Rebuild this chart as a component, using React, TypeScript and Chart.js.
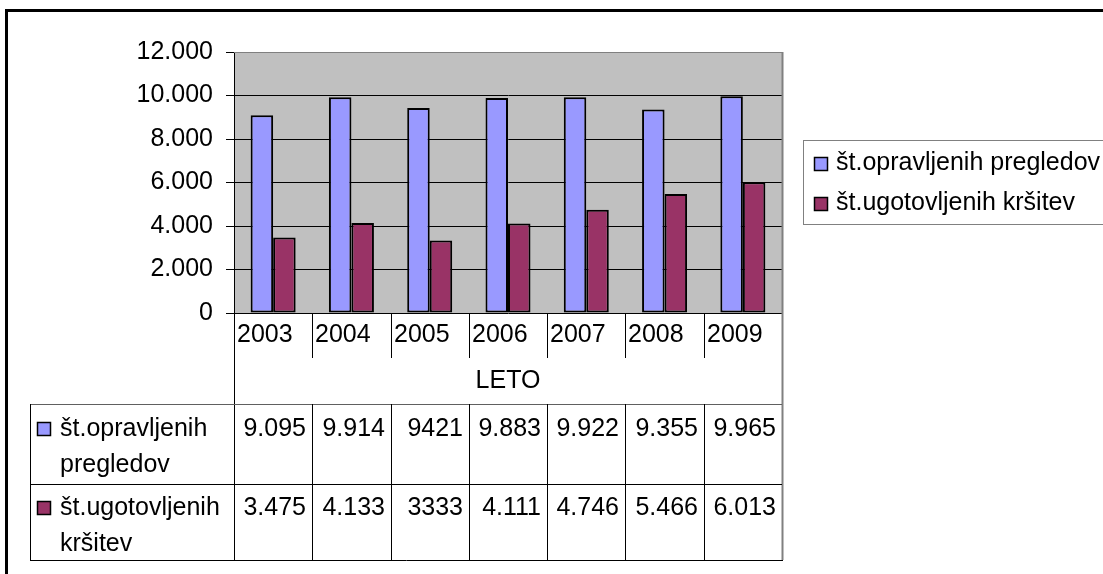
import React, { useEffect, useRef } from 'react';
import { Chart, registerables } from 'chart.js';

Chart.register(...registerables);

const categories = ['2003', '2004', '2005', '2006', '2007', '2008', '2009'];
const seriesNames = ['št.opravljenih pregledov', 'št.ugotovljenih kršitev'];
const inspections = [9095, 9914, 9421, 9883, 9922, 9355, 9965];
const violations = [3475, 4133, 3333, 4111, 4746, 5466, 6013];
const inspectionsText = ['9.095', '9.914', '9421', '9.883', '9.922', '9.355', '9.965'];
const violationsText = ['3.475', '4.133', '3333', '4.111', '4.746', '5.466', '6.013'];
const rowLabelLines = [
  ['št.opravljenih', 'pregledov'],
  ['št.ugotovljenih', 'kršitev'],
];
const axisTitle = 'LETO';
const yMin = 0;
const yMax = 12000;
const yStep = 2000;

const colors = ['#9999FF', '#993366'];
const FONT = '"Liberation Sans", Arial, sans-serif';
const FS = 25;
const W = 1103;
const H = 574;

function fmt(v: number): string {
  const s = String(Math.round(v));
  return s.replace(/\B(?=(\d{3})+(?!\d))/g, '.');
}

const decorPlugin = {
  id: 'decor',
  beforeDraw(chart: any) {
    const { ctx, chartArea } = chart;
    ctx.save();
    ctx.fillStyle = '#FFFFFF';
    ctx.fillRect(0, 0, chart.width, chart.height);
    ctx.fillStyle = '#C0C0C0';
    ctx.fillRect(chartArea.left, chartArea.top, chartArea.right - chartArea.left, chartArea.bottom - chartArea.top);
    ctx.restore();
  },
  afterDraw(chart: any) {
    const { ctx, chartArea, scales } = chart;
    const xs = scales.x;
    const left = chartArea.left;
    const right = chartArea.right;
    const top = chartArea.top;
    const bottom = chartArea.bottom;
    const n = categories.length;
    const cw = (right - left) / n;
    const edge = (i: number) => Math.round(xs.getPixelForValue(0) - cw / 2 + i * cw);

    const axisCellBottom = bottom + 45;
    const tableTop = bottom + 91;
    const rowMid = tableTop + 80;
    const tableBottom = rowMid + 76;
    const tableLeft = 30;

    ctx.save();
    const line = (x1: number, y1: number, x2: number, y2: number, color: string, w = 1) => {
      ctx.beginPath();
      ctx.strokeStyle = color;
      ctx.lineWidth = w;
      ctx.moveTo(x1, y1);
      ctx.lineTo(x2, y2);
      ctx.stroke();
    };

    // plot area border (top/right) gray
    line(left, top + 0.5, right, top + 0.5, '#808080', 1);
    line(right + 0.5, top, right + 0.5, tableBottom, '#808080', 2);

    // category separators below axis
    for (let i = 1; i < n; i++) {
      line(edge(i) + 0.5, bottom, edge(i) + 0.5, axisCellBottom, '#000');
    }
    // left line of the axis/table
    line(left + 0.5, bottom, left + 0.5, tableBottom, '#000');

    // table lines
    line(tableLeft, tableTop + 0.5, right, tableTop + 0.5, '#606060');
    line(tableLeft, rowMid + 0.5, right, rowMid + 0.5, '#000');
    line(tableLeft, tableBottom + 0.5, right + 1, tableBottom + 0.5, '#000');
    line(tableLeft + 0.5, tableTop, tableLeft + 0.5, tableBottom + 1, '#000');
    for (let i = 1; i < n; i++) {
      line(edge(i) + 0.5, tableTop, edge(i) + 0.5, tableBottom, '#000');
    }

    ctx.fillStyle = '#000';
    ctx.font = `${FS}px ${FONT}`;
    ctx.textBaseline = 'middle';

    // category labels
    ctx.textAlign = 'left';
    categories.forEach((c, i) => {
      ctx.fillText(c, edge(i) + 3, bottom + 22);
    });
    // axis title
    ctx.textAlign = 'center';
    ctx.fillText(axisTitle, (left + right) / 2, bottom + 68);

    // values
    ctx.textAlign = 'right';
    inspectionsText.forEach((t, i) => {
      ctx.fillText(t, edge(i + 1) - 6, tableTop + 25);
    });
    violationsText.forEach((t, i) => {
      ctx.fillText(t, edge(i + 1) - 6, rowMid + 24);
    });

    // row labels
    const rowTops = [tableTop + 25, rowMid + 24];
    rowLabelLines.forEach((lines, r) => {
      const y0 = rowTops[r];
      ctx.fillStyle = colors[r];
      ctx.fillRect(37.5, y0 - 6.5, 13, 13);
      ctx.strokeStyle = '#000';
      ctx.lineWidth = 1.5;
      ctx.strokeRect(37.5, y0 - 6.5, 13, 13);
      ctx.fillStyle = '#000';
      ctx.textAlign = 'left';
      lines.forEach((l, k) => {
        ctx.fillText(l, 60, y0 + k * 36);
      });
    });

    // legend
    ctx.strokeStyle = '#808080';
    ctx.lineWidth = 1;
    ctx.strokeRect(803.5, 140.5, 400, 84);
    const legY = [164, 204];
    seriesNames.forEach((name, i) => {
      ctx.fillStyle = colors[i];
      ctx.fillRect(814.5, legY[i] - 6.5, 13, 13);
      ctx.strokeStyle = '#000';
      ctx.lineWidth = 1.5;
      ctx.strokeRect(814.5, legY[i] - 6.5, 13, 13);
      ctx.fillStyle = '#000';
      ctx.textAlign = 'left';
      ctx.fillText(name, 836, legY[i] - 1);
    });

    // outer frame
    ctx.strokeStyle = '#000';
    ctx.lineWidth = 3;
    ctx.beginPath();
    ctx.moveTo(W + 10, 10.5);
    ctx.lineTo(6.5, 10.5);
    ctx.lineTo(6.5, H + 10);
    ctx.stroke();

    ctx.restore();
  },
};

export default function App() {
  const ref = useRef<HTMLCanvasElement | null>(null);
  useEffect(() => {
    if (!ref.current) return;
    const chart = new Chart(ref.current, {
      type: 'bar',
      data: {
        labels: categories,
        datasets: [
          {
            label: seriesNames[0],
            data: inspections,
            backgroundColor: colors[0],
            borderColor: '#000',
            borderWidth: 2,
            borderSkipped: false,
            categoryPercentage: 0.575,
            barPercentage: 1,
          },
          {
            label: seriesNames[1],
            data: violations,
            backgroundColor: colors[1],
            borderColor: '#000',
            borderWidth: 2,
            borderSkipped: false,
            categoryPercentage: 0.575,
            barPercentage: 1,
          },
        ],
      },
      options: {
        responsive: false,
        animation: false,
        layout: { padding: { left: 0, top: 52, right: W - 782, bottom: H - 313 } },
        plugins: {
          legend: { display: false },
          tooltip: { enabled: false },
          title: { display: false },
        },
        scales: {
          x: {
            display: false,
          },
          y: {
            min: yMin,
            max: yMax,
            afterFit: (scale: any) => {
              scale.width = 234;
            },
            ticks: {
              stepSize: yStep,
              color: '#000',
              padding: 13,
              font: { family: FONT, size: FS },
              callback: (v: any) => fmt(Number(v)),
            },
            grid: {
              color: (c: any) => (c.tick && c.tick.value === yMax ? '#808080' : '#000'),
              tickColor: '#000',
              lineWidth: 1,
              tickLength: 8,
            },
            border: { display: true, color: '#000', width: 1 },
          },
        },
      },
      plugins: [decorPlugin],
    });
    return () => chart.destroy();
  }, []);
  return (
    <div style={{ position: 'absolute', left: 0, top: 0, width: W, height: H, background: '#fff' }}>
      <canvas ref={ref} width={W} height={H} style={{ display: 'block' }} />
    </div>
  );
}
